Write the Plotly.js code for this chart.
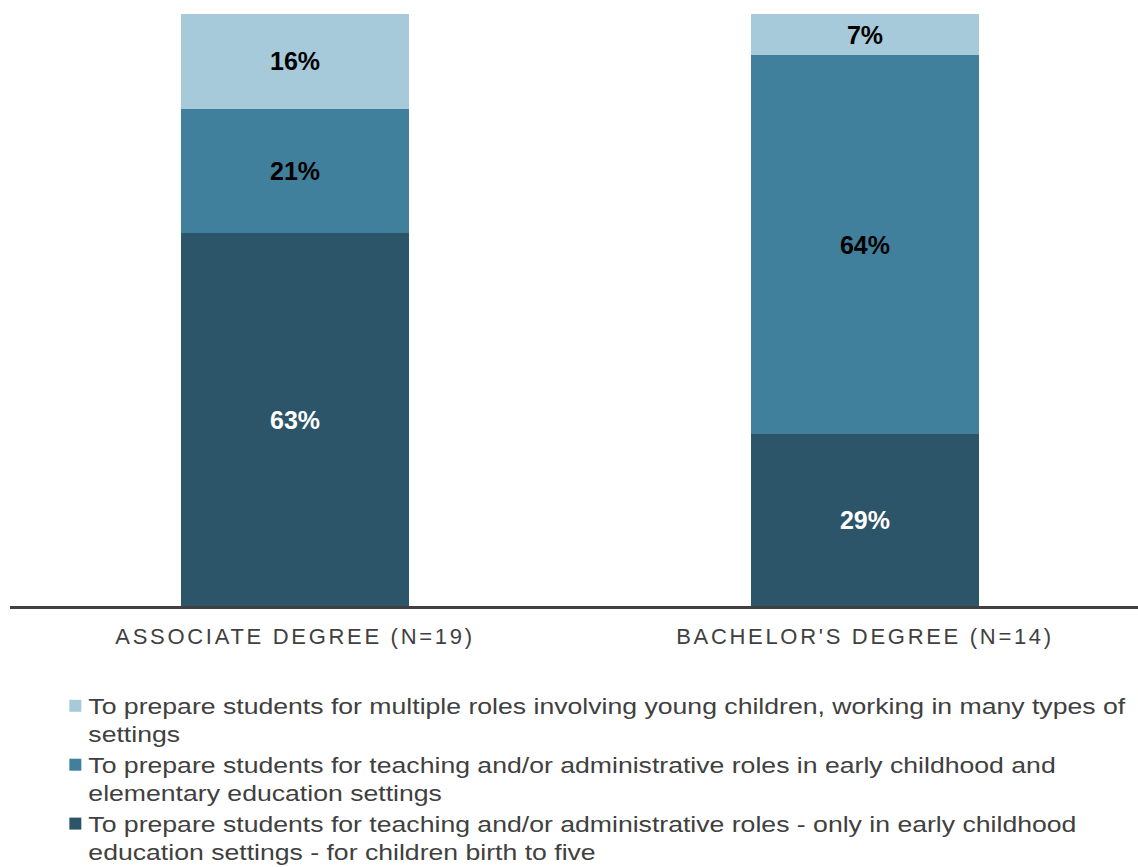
<!DOCTYPE html>
<html>
<head>
<meta charset="utf-8">
<script src="https://cdn.plot.ly/plotly-3.0.1.min.js"></script>
<style>
  html, body { margin: 0; padding: 0; background: #fff; }
  #chart { width: 1138px; height: 867px; }
  .js-plotly-plot .xtick text { letter-spacing: 2.7px; }
  .js-plotly-plot .legend .scrollbox { clip-path: none !important; }
  .js-plotly-plot text.legendtext {
    transform-box: fill-box;
    transform-origin: left center;
    transform: translateX(-7px) scaleX(1.238);
  }
</style>
</head>
<body>
<div id="chart"></div>
<script>
const categories = ["ASSOCIATE DEGREE (N=19)", "BACHELOR'S DEGREE (N=14)"];
const earlyOnly = [63, 29];
const earlyAndElementary = [21, 64];
const multipleRoles = [16, 7];
const seriesNames = [
  "To prepare students for teaching and/or administrative roles - only in early childhood<br>education settings - for children birth to five",
  "To prepare students for teaching and/or administrative roles in early childhood and<br>elementary education settings",
  "To prepare students for multiple roles involving young children, working in many types of<br>settings"
];
const colors = ["#2C5569", "#41809D", "#A7CADB"];
const labelColors = ["#FFFFFF", "#000000", "#000000"];
const seriesValues = [earlyOnly, earlyAndElementary, multipleRoles];

const traces = seriesValues.map((vals, i) => ({
  type: "bar",
  x: categories,
  y: vals,
  name: seriesNames[i],
  marker: { color: colors[i] },
  width: 0.4,
  text: vals.map(v => v + "%"),
  textposition: "inside",
  insidetextanchor: "middle",
  textangle: 0,
  constraintext: "none",
  insidetextfont: { family: "Liberation Sans, Arial, sans-serif", size: 25, color: labelColors[i], weight: "bold" },
  hoverinfo: "skip"
}));

const layout = {
  width: 1138,
  height: 867,
  margin: { l: 10, r: 0, t: 14, b: 261, autoexpand: false },
  paper_bgcolor: "#ffffff",
  plot_bgcolor: "#ffffff",
  barmode: "stack",
  showlegend: true,
  font: { family: "Liberation Sans, Arial, sans-serif", color: "#404040" },
  xaxis: {
    type: "category",
    range: [-0.5, 1.479],
    showline: true,
    linecolor: "#404040",
    linewidth: 3,
    ticks: "",
    ticklabelstandoff: 9,
    showgrid: false,
    zeroline: false,
    tickfont: { size: 22, color: "#404040" },
    fixedrange: true
  },
  yaxis: {
    range: [0, 100],
    showgrid: false,
    zeroline: false,
    showticklabels: false,
    ticks: "",
    showline: false,
    fixedrange: true
  },
  legend: {
    orientation: "v",
    traceorder: "reversed",
    valign: "top",
    x: 0.0402,
    xanchor: "left",
    y: -0.134,
    yanchor: "top",
    font: { size: 21.5, color: "#404040" },
    tracegroupgap: 0,
    bgcolor: "rgba(0,0,0,0)"
  }
};

Plotly.newPlot("chart", traces, layout, { displayModeBar: false, staticPlot: true });
</script>
</body>
</html>
